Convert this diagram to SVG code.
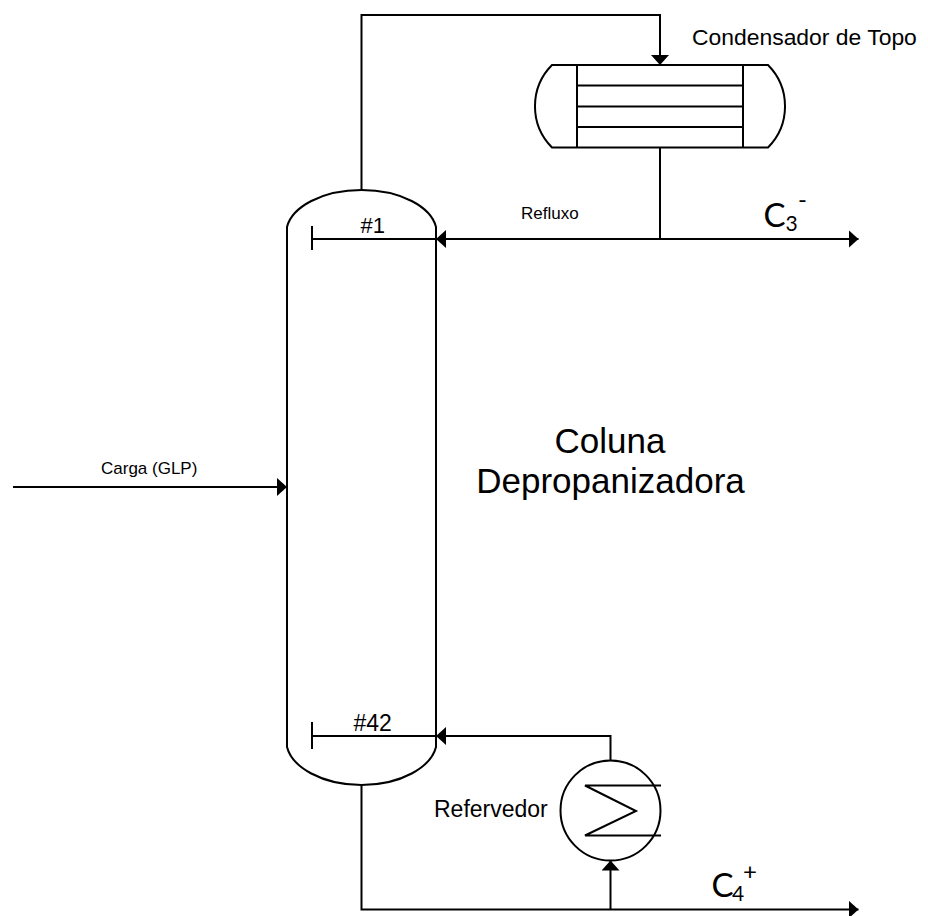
<svg xmlns="http://www.w3.org/2000/svg" width="928" height="916" viewBox="0 0 928 916">
<style>
.l{fill:none;stroke:#000;stroke-width:2}
.t{font-family:"Liberation Sans",Arial,sans-serif;fill:#000}
.c{font-family:Lato,"Open Sans",sans-serif;fill:#000}
</style>
<defs>
<marker id="a" markerUnits="userSpaceOnUse" markerWidth="10" markerHeight="18" refX="10" refY="9" orient="auto"><path d="M0 0L10 9L0 18Z" fill="#000"/></marker>
</defs>
<rect width="928" height="916" fill="#fff"/>
<g id="connectors" class="l">
<path class="l" d="M361.500 190V15H660V65" marker-end="url(#a)"/>
<path class="l" d="M660 147.500V239"/>
<path class="l" d="M660 239H436" marker-end="url(#a)"/>
<path class="l" d="M660 239H858.500" marker-end="url(#a)"/>
<path class="l" d="M13 487H287" marker-end="url(#a)"/>
<path class="l" d="M610.500 761V736H436" marker-end="url(#a)"/>
<path class="l" d="M361.500 785V909.500H858.500" marker-end="url(#a)"/>
<path class="l" d="M610.500 909.500V860.500" marker-end="url(#a)"/>
</g>
<g id="coluna">
<path class="l" d="M287 227C292 207 322 190 361.500 190C401 190 431 207 436 227V747C431 767 401 785 361.500 785C322 785 292 767 287 747Z"/>
<path class="l" d="M312 226V250M312 239H436M312 722V749M312 736H436"/>
<text class="t" x="360.500" y="233" font-size="22">#1</text>
<text class="t" x="353.500" y="731" font-size="23">#42</text>
<text class="t" x="610" y="453" font-size="35" text-anchor="middle">Coluna</text>
<text class="t" x="610.500" y="493" font-size="35" text-anchor="middle">Depropanizadora</text>
</g>
<g id="condensador">
<path class="l" d="M552 65H768A58.500 58.500 0 0 1 768 147.500H552A58.500 58.500 0 0 1 552 65Z"/>
<path class="l" d="M577 65V147.500M743 65V147.500M577 85.500H743M577 106.500H743M577 127H743"/>
<text class="t" x="692" y="45" font-size="22.900">Condensador de Topo</text>
</g>
<g id="refervedor">
<circle class="l" cx="610.500" cy="810.500" r="50"/>
<path class="l" d="M661 785.500H585L636 811L585 835.500H661"/>
<text class="t" x="434" y="817" font-size="23">Refervedor</text>
</g>
<g id="labels">
<text class="t" x="521" y="219" font-size="17">Refluxo</text>
<text class="t" x="101" y="474" font-size="17">Carga (GLP)</text>
<text class="c" x="763.500" y="227" font-size="33">C</text>
<text class="c" x="785.500" y="231" font-size="21">3</text>
<text class="c" x="798" y="208" font-size="24">-</text>
<text class="c" x="711.500" y="897" font-size="33">C</text>
<text class="c" x="732" y="901" font-size="21">4</text>
<text class="c" x="743" y="880" font-size="24">+</text>
</g>
</svg>
